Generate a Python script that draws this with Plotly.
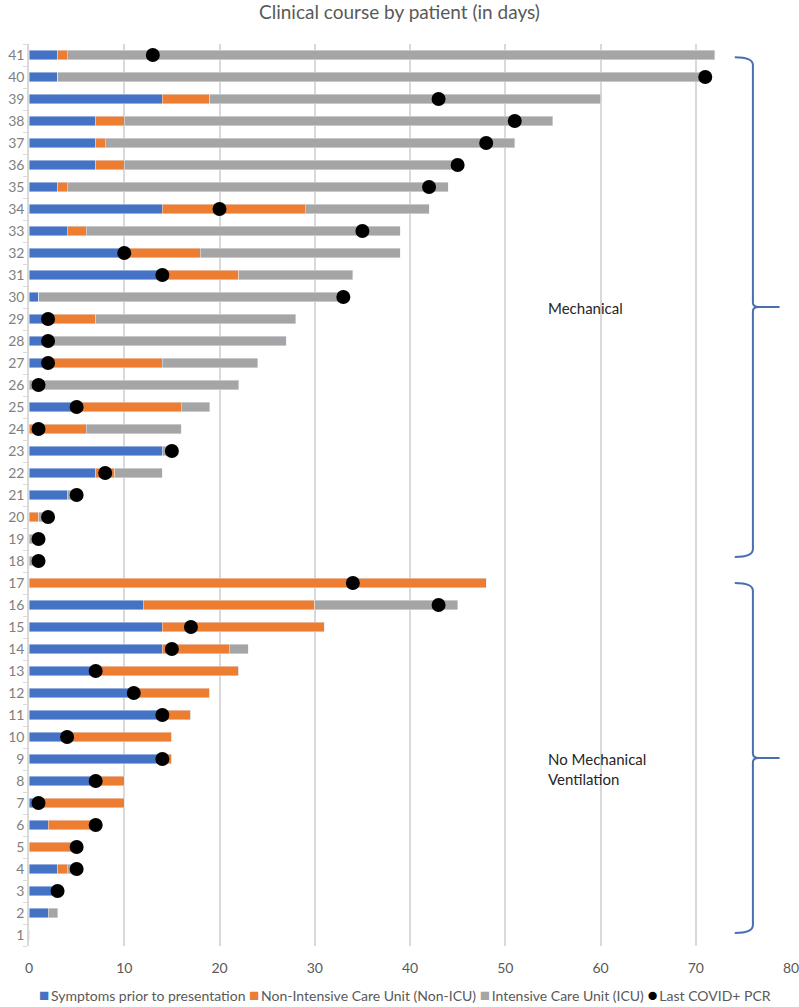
import plotly.graph_objects as go

patients = list(range(1, 42))
symptoms = [0, 2, 3, 3, 0, 2, 1, 7, 14, 4, 14, 11, 7, 14, 14, 12, 0, 0, 0, 0, 4, 7, 14, 0, 5, 0, 2, 2, 2, 1, 14, 10, 4, 14, 3, 7, 7, 7, 14, 3, 3]
non_icu = [0, 0, 0, 1, 5, 5, 9, 3, 1, 11, 3, 8, 15, 7, 17, 18, 48, 0, 0, 1, 0, 2, 0, 6, 11, 0, 12, 0, 5, 0, 8, 8, 2, 15, 1, 3, 1, 3, 5, 0, 1]
icu = [0, 1, 0, 1, 0, 0, 0, 0, 0, 0, 0, 0, 0, 2, 0, 15, 0, 1, 1, 1, 1, 5, 1, 10, 3, 22, 10, 25, 21, 32, 12, 21, 33, 13, 40, 35, 43, 45, 41, 68, 68]
last_pcr = [None, None, 3, 5, 5, 7, 1, 7, 14, 4, 14, 11, 7, 15, 17, 43, 34, 1, 1, 2, 5, 8, 15, 1, 5, 1, 2, 2, 2, 33, 14, 10, 35, 20, 42, 45, 48, 51, 43, 71, 13]
x_ticks = [0, 10, 20, 30, 40, 50, 60, 70, 80]

series_names = ["Symptoms prior to presentation", "Non-Intensive Care Unit (Non-ICU)",
                "Intensive Care Unit (ICU)", "Last COVID+ PCR"]
series_colors = ["#4472C4", "#ED7D31", "#A5A5A5", "black"]

FONT = "Lato"
fig = go.Figure()
for vals, name, col in zip([symptoms, non_icu, icu], series_names[:3], series_colors[:3]):
    fig.add_trace(go.Bar(y=patients, x=vals, orientation="h", name=name, marker_color=col, width=0.45))
fig.add_trace(go.Scatter(y=patients, x=last_pcr, mode="markers", name=series_names[3],
                         marker=dict(color=series_colors[3], size=14, symbol="circle")))

brace = dict(type="path", xref="x", yref="y", line=dict(color="#4A6FB0", width=2))

def brace_path(yt, ytip, yb):
    x0, x1, x2 = 74.1, 76.0, 78.8
    return (f"M {x0},{yt} Q {x1},{yt} {x1},{yt-0.35} L {x1},{ytip+0.2} Q {x1},{ytip} {x1+0.6},{ytip} "
            f"L {x2},{ytip} M {x1+0.6},{ytip} Q {x1},{ytip} {x1},{ytip-0.2} L {x1},{yb+0.35} "
            f"Q {x1},{yb} {x0},{yb}")

symbols = ["■", "■", "■", "●"]
legend_text = " ".join(
    f'<span style="color:{c};font-size:17px">{s}</span>\u2009{n}' for s, c, n in zip(symbols, series_colors, series_names)
)

fig.update_layout(
    width=799, height=1007,
    margin=dict(l=29, r=8, t=44, b=61, autoexpand=False),
    paper_bgcolor="white", plot_bgcolor="white",
    barmode="stack",
    title=dict(text="Clinical course by patient (in days)", x=0.5, xanchor="center", y=0.988, yanchor="middle",
               font=dict(family=FONT, size=19, color="#595959")),
    font=dict(family=FONT, color="#595959"),
    xaxis=dict(range=[0, 80], tickvals=x_ticks, showgrid=True, gridcolor="#D9D9D9", gridwidth=1.5,
               zeroline=False, showline=False, tickfont=dict(size=14, color="#595959"), ticks="",
               automargin=False, ticklabelstandoff=12, ticklabeloverflow="allow"),
    yaxis=dict(range=[0.5, 41.5], tickvals=patients, showgrid=False, zeroline=False,
               showline=True, linecolor="#D9D9D9", linewidth=1.5, ticks="", automargin=False,
               tickfont=dict(size=14, color="#7F7F7F"), ticklabeloverflow="allow",
               minor=dict(ticks="outside", tick0=0.5, dtick=1, ticklen=4, tickcolor="#D9D9D9", showgrid=False)),
    showlegend=False,
    shapes=[dict(brace, path=brace_path(40.9, 29.55, 18.18)),
            dict(brace, path=brace_path(17.0, 9.05, 1.09))],
    annotations=[
        dict(x=54.3, y=29.5, xref="x", yref="y", text="Mechanical", showarrow=False, xanchor="left",
             font=dict(family=FONT, size=15, color="#262626")),
        dict(x=54.3, y=8.55, xref="x", yref="y", text="No Mechanical<br>Ventilation", showarrow=False,
             xanchor="left", align="left", font=dict(family=FONT, size=15, color="#262626")),
        dict(x=0.494, y=-0.054, xref="paper", yref="paper", text=legend_text, showarrow=False,
             xanchor="center", yanchor="middle", font=dict(family=FONT, size=14, color="#595959")),
    ],
)

fig.write_html("out.html", config={"displayModeBar": False},
               post_script="document.body.style.margin='0';")
